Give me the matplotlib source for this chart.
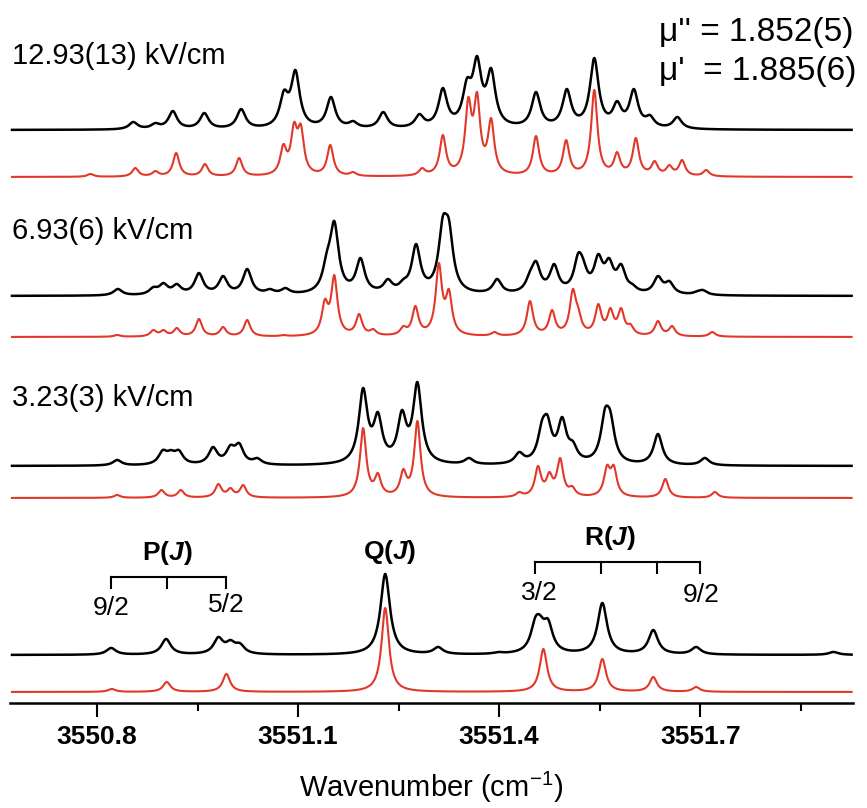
import numpy as np
import matplotlib.pyplot as plt

plt.rcParams['font.family'] = ['Liberation Sans', 'DejaVu Sans']
plt.rcParams['mathtext.fontset'] = 'custom'
plt.rcParams['mathtext.rm'] = 'Liberation Sans'
plt.rcParams['mathtext.it'] = 'Liberation Sans:italic:bold'

# peak lists: line position (cm-1) and height above baseline
# 12.93 kV/cm
obs1_pos = [3550.854, 3550.887, 3550.913, 3550.960, 3551.015, 3551.079, 3551.096, 3551.149,
            3551.182, 3551.227, 3551.281, 3551.316, 3551.352, 3551.367, 3551.388, 3551.455,
            3551.501, 3551.542, 3551.576, 3551.601, 3551.625, 3551.666]
obs1_hgt = [8, 7, 19, 17, 21, 40, 60, 33, 9, 18, 16, 42, 52, 74, 62, 38, 41, 72, 29, 41, 15, 13]
sim1_pos = [3550.790, 3550.857, 3550.887, 3550.918, 3550.961, 3551.012, 3551.078, 3551.094,
            3551.104, 3551.148, 3551.182, 3551.285, 3551.316, 3551.354, 3551.367, 3551.388,
            3551.455, 3551.500, 3551.542, 3551.576, 3551.604, 3551.632, 3551.654, 3551.673,
            3551.709]
sim1_hgt = [3, 9, 6, 24, 13, 19, 33, 55, 53, 32, 5, 9, 42, 80, 85, 59,
            41, 37, 87, 25, 39, 16, 12, 17, 7]

# 6.93 kV/cm
obs2_pos = [3550.831, 3550.884, 3550.899, 3550.919, 3550.952, 3550.988, 3551.024, 3551.058,
            3551.081, 3551.143, 3551.154, 3551.193, 3551.234, 3551.257, 3551.276, 3551.316,
            3551.325, 3551.397, 3551.446, 3551.455, 3551.482, 3551.518, 3551.525, 3551.548,
            3551.564, 3551.582, 3551.599, 3551.637, 3551.654, 3551.696, 3551.704]
obs2_hgt = [7, 9, 13, 12, 23, 20, 27, 7, 8, 45, 75, 38, 17, 17, 52, 80,
            77, 17, 25, 35, 32, 43, 38, 42, 38, 32, 12, 20, 15, 5, 6]
sim2_pos = [3550.830, 3550.884, 3550.899, 3550.919, 3550.952, 3550.988, 3551.024, 3551.078,
            3551.140, 3551.154, 3551.191, 3551.212, 3551.257, 3551.275, 3551.310, 3551.325,
            3551.393, 3551.446, 3551.479, 3551.510, 3551.518, 3551.548, 3551.566, 3551.582,
            3551.596, 3551.637, 3551.658, 3551.718]
sim2_hgt = [2, 7, 7, 9, 18, 10, 17, 2, 38, 62, 23, 8, 11, 31, 74, 48,
            5, 36, 27, 48, 30, 33, 29, 29, 13, 16, 11, 5]

# 3.23 kV/cm
obs3_pos = [3550.830, 3550.898, 3550.910, 3550.922, 3550.973, 3550.999, 3551.012, 3551.039,
            3551.197, 3551.219, 3551.255, 3551.278, 3551.355, 3551.430, 3551.464, 3551.472,
            3551.494, 3551.510, 3551.558, 3551.566, 3551.637, 3551.707]
obs3_hgt = [6, 16, 16, 16, 19, 21, 23, 8, 78, 54, 56, 84, 8, 14, 46, 51,
            49, 25, 58, 55, 32, 8]
sim3_pos = [3550.830, 3550.896, 3550.925, 3550.981, 3550.999, 3551.018, 3551.197, 3551.219,
            3551.257, 3551.278, 3551.430, 3551.458, 3551.475, 3551.491, 3551.509, 3551.561,
            3551.571, 3551.648, 3551.722]
sim3_hgt = [3, 8, 8, 14, 10, 13, 70, 25, 29, 77, 6, 32, 26, 40, 12, 33, 33, 19, 6]

# zero field
obs4_pos = [3550.821, 3550.903, 3550.981, 3550.999, 3551.013, 3551.230, 3551.309, 3551.399,
            3551.454, 3551.461, 3551.473, 3551.554, 3551.630, 3551.694, 3551.899]
obs4_hgt = [7, 16, 18, 15, 12, 81, 8, 3, 38, 40, 36, 52, 25, 8, 3]
sim4_pos = [3550.822, 3550.904, 3550.993, 3551.230, 3551.466, 3551.554, 3551.630, 3551.694]
sim4_hgt = [3, 10, 18, 84, 43, 33, 15, 5]

field_labels = ['12.93(13) kV/cm', '6.93(6) kV/cm', '3.23(3) kV/cm']
obs_base = [573, 407, 237, 48]
sim_base = [526, 366, 205, 11]
obs_width = [0.0078, 0.0078, 0.0078, 0.0085]
sim_width = [0.0056, 0.0056, 0.0056, 0.0066]

p_branch = [3550.821, 3550.904, 3550.993]
r_branch = [3551.454, 3551.552, 3551.636, 3551.699]

xticks = [3550.8, 3551.1, 3551.4, 3551.7]
xminor = [3550.95, 3551.25, 3551.55, 3551.85]


def lorentz(x, x0, g):
    return g**2 / ((x - x0)**2 + g**2)


def spectrum(x, pos, hgt, g):
    # scale the line amplitudes so the summed profile hits the read heights
    pos = np.array(pos)
    hgt = np.array(hgt, float)
    m = lorentz(pos[:, None], pos[None, :], g)
    amp = hgt.copy()
    for _ in range(400):
        amp *= hgt / (m @ amp)
    return lorentz(x[:, None], pos[None, :], g) @ amp


x = np.linspace(3550.673, 3551.926, 3000)

fig = plt.figure(figsize=(8.67, 8.08), dpi=100)
ax = fig.add_axes([0.0115, 0.13, 0.9723, 0.87])

obs = [(obs1_pos, obs1_hgt), (obs2_pos, obs2_hgt), (obs3_pos, obs3_hgt), (obs4_pos, obs4_hgt)]
sim = [(sim1_pos, sim1_hgt), (sim2_pos, sim2_hgt), (sim3_pos, sim3_hgt), (sim4_pos, sim4_hgt)]

for i in range(4):
    ax.plot(x, obs_base[i] + spectrum(x, obs[i][0], obs[i][1], obs_width[i]),
            color='black', lw=1.8)
    ax.plot(x, sim_base[i] + spectrum(x, sim[i][0], sim[i][1], sim_width[i]),
            color='#e2382a', lw=1.5)

for lab, yy in zip(field_labels, [647, 472, 305]):
    ax.text(3550.673, yy, lab, fontsize=21, ha='left', va='center')

ax.text(3551.639, 670, "\u03bc'' = 1.852(5)", fontsize=24, ha='left', va='center')
ax.text(3551.639, 631, "\u03bc'  = 1.885(6)", fontsize=24, ha='left', va='center')

# branch brackets
for br, ytop in [(p_branch, 126), (r_branch, 141)]:
    ax.plot([br[0], br[-1]], [ytop, ytop], color='black', lw=1.5)
    for b in br:
        ax.plot([b, b], [ytop, ytop - 11], color='black', lw=1.5)
ax.text(p_branch[1], 150, r'P($\mathit{J}$)', fontsize=19, fontweight='bold', ha='center', va='center')
ax.text(3551.236, 151, r'Q($\mathit{J}$)', fontsize=19, fontweight='bold', ha='center', va='center')
ax.text(3551.565, 165, r'R($\mathit{J}$)', fontsize=19, fontweight='bold', ha='center', va='center')
ax.text(p_branch[0], 95, '9/2', fontsize=19, ha='center', va='center')
ax.text(p_branch[-1], 98, '5/2', fontsize=19, ha='center', va='center')
ax.text(r_branch[0] + 0.006, 110, '3/2', fontsize=19, ha='center', va='center')
ax.text(r_branch[-1] + 0.003, 108, '9/2', fontsize=19, ha='center', va='center')

ax.set_xlim(3550.67, 3551.928)
ax.set_ylim(0, 703)
ax.set_xticks(xticks)
ax.set_xticklabels([f'{t:.1f}' for t in xticks], fontsize=19, fontweight='bold')
ax.set_xticks(xminor, minor=True)
ax.set_yticks([])
for s in ['left', 'right', 'top']:
    ax.spines[s].set_visible(False)
ax.spines['bottom'].set_linewidth(1.8)
ax.tick_params(axis='x', which='major', direction='out', length=10, width=1.5, pad=6)
ax.tick_params(axis='x', which='minor', direction='out', length=6, width=1.5)
ax.set_xlabel('Wavenumber (cm$^{-1}$)', fontsize=21, labelpad=15)

fig.savefig('out.png', dpi=100)
